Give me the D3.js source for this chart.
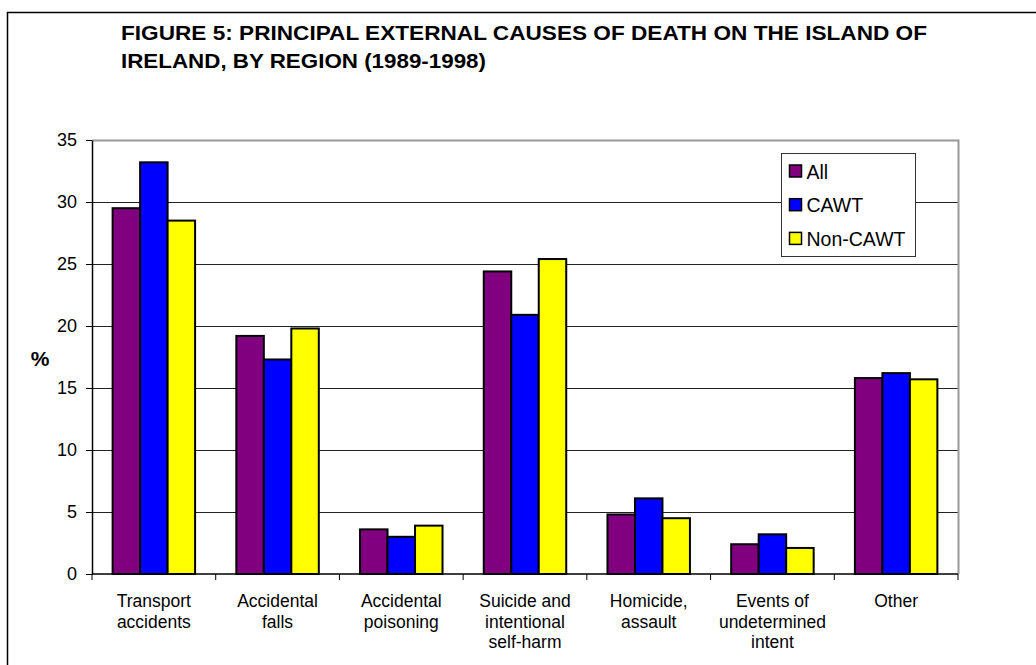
<!DOCTYPE html>
<html>
<head>
<meta charset="utf-8">
<title>Figure 5</title>
<script src="https://d3js.org/d3.v7.min.js"></script>
<style>
  body { margin: 0; background: #fff; }
  svg text { font-family: "Liberation Sans", Arial, sans-serif; fill: #000; }
</style>
</head>
<body>
<div class="chart"></div>
<script>
// data
var categories = [
  ["Transport", "accidents"],
  ["Accidental", "falls"],
  ["Accidental", "poisoning"],
  ["Suicide and", "intentional", "self-harm"],
  ["Homicide,", "assault"],
  ["Events of", "undetermined", "intent"],
  ["Other"]
];
var seriesNames = ["All", "CAWT", "Non-CAWT"];
var allValues = [29.5, 19.2, 3.6, 24.4, 4.8, 2.4, 15.8];
var cawtValues = [33.2, 17.3, 3.0, 20.9, 6.1, 3.2, 16.2];
var nonCawtValues = [28.5, 19.8, 3.9, 25.4, 4.5, 2.1, 15.7];
var yTicks = [0, 5, 10, 15, 20, 25, 30, 35];
var titleLines = ["FIGURE 5: PRINCIPAL EXTERNAL CAUSES OF DEATH ON THE ISLAND OF",
                  "IRELAND, BY REGION (1989-1998)"];
var colors = ["#800080", "#0000ff", "#ffff00"];

var width = 1036, height = 665;
var margin = {left: 92, right: 78, top: 140, bottom: 91};

var svg = d3.select(".chart").append("svg")
    .attr("width", width)
    .attr("height", height);

// outer frame (runs off right and bottom)
svg.append("rect")
    .attr("x", 7.5).attr("y", 12.5)
    .attr("width", 1100).attr("height", 700)
    .attr("fill", "none").attr("stroke", "#000").attr("stroke-width", 1.5);

// title - the original face is a bit wider than Liberation, so stretch to the measured widths
var titleWidths = [806, 365];
svg.append("g").selectAll("text")
    .data(titleLines)
    .enter().append("text")
    .attr("x", 121)
    .attr("y", function(d, i) { return 40 + i * 28; })
    .attr("textLength", function(d, i) { return titleWidths[i]; })
    .attr("lengthAdjust", "spacingAndGlyphs")
    .style("font-weight", "bold")
    .style("font-size", "19.5px")
    .text(function(d) { return d; });

var idx = d3.range(categories.length);
var x0 = d3.scaleBand()
    .domain(idx)
    .range([margin.left, width - margin.right])
    .paddingInner(0).paddingOuter(0);

var x1 = d3.scaleBand()
    .domain(seriesNames)
    .range([0, x0.bandwidth()])
    .paddingInner(0).paddingOuter(0.75);

var y = d3.scaleLinear()
    .domain([0, 35])
    .range([height - margin.bottom, margin.top]);

var x0L = margin.left, x0R = width - margin.right;

// gridlines
svg.append("g").selectAll("line")
    .data(yTicks.filter(function(d) { return d > 0 && d < 35; }))
    .enter().append("line")
    .attr("x1", x0L).attr("x2", x0R)
    .attr("y1", function(d) { return Math.round(y(d)) + 0.5; })
    .attr("y2", function(d) { return Math.round(y(d)) + 0.5; })
    .attr("stroke", "#222").attr("stroke-width", 1);

// plot area border top / right (gray)
svg.append("path")
    .attr("d", "M" + x0L + "," + (y(35) + 0.5) + "H" + (x0R + 0.5) + "V" + y(0))
    .attr("fill", "none").attr("stroke", "#999").attr("stroke-width", 2);

// bars
var seriesData = [allValues, cawtValues, nonCawtValues];
var groups = svg.append("g").selectAll("g")
    .data(idx)
    .enter().append("g")
    .attr("transform", function(i) { return "translate(" + x0(i) + ",0)"; });

groups.selectAll("rect")
    .data(function(i) {
        return seriesNames.map(function(s, k) { return {name: s, k: k, value: seriesData[k][i]}; });
    })
    .enter().append("rect")
    .attr("x", function(d) { return x1(d.name); })
    .attr("width", x1.bandwidth())
    .attr("y", function(d) { return y(d.value); })
    .attr("height", function(d) { return y(0) - y(d.value); })
    .attr("fill", function(d) { return colors[d.k]; })
    .attr("stroke", "#000").attr("stroke-width", 2);

// y axis
var yAxis = svg.append("g")
    .attr("transform", "translate(" + x0L + ",0)")
    .call(d3.axisLeft(y).tickValues(yTicks).tickSize(6).tickPadding(9).tickSizeOuter(0));
yAxis.select(".domain").attr("stroke", "#000").attr("stroke-width", 1.5);
yAxis.selectAll(".tick line").attr("stroke", "#000");
yAxis.selectAll(".tick text")
    .style("font-size", "18px")
    .style("font-family", "Liberation Sans, Arial, sans-serif");

// x axis line and ticks at category boundaries
svg.append("line")
    .attr("x1", x0L).attr("x2", x0R)
    .attr("y1", y(0)).attr("y2", y(0))
    .attr("stroke", "#000").attr("stroke-width", 1.5);

var bounds = idx.map(function(i) { return x0(i); }).concat([x0R]);
svg.append("g").selectAll("line")
    .data(bounds)
    .enter().append("line")
    .attr("x1", function(d) { return d; }).attr("x2", function(d) { return d; })
    .attr("y1", y(0)).attr("y2", y(0) + 6)
    .attr("stroke", "#000").attr("stroke-width", 1);

// category labels
var labels = svg.append("g").selectAll("text")
    .data(idx)
    .enter().append("text")
    .attr("x", function(i) { return x0(i) + x0.bandwidth() / 2; })
    .attr("y", 607)
    .attr("text-anchor", "middle")
    .style("font-size", "17.5px");
labels.each(function(i) {
    var t = d3.select(this);
    categories[i].forEach(function(line, j) {
        t.append("tspan")
            .attr("x", x0(i) + x0.bandwidth() / 2)
            .attr("dy", j === 0 ? 0 : 20.7)
            .text(line);
    });
});

// y axis title
svg.append("text")
    .attr("x", 40).attr("y", 366)
    .attr("text-anchor", "middle")
    .style("font-weight", "bold")
    .style("font-size", "21px")
    .text("%");

// legend
var legend = svg.append("g").attr("transform", "translate(781.5,153.5)");
legend.append("rect")
    .attr("width", 134).attr("height", 103)
    .attr("fill", "#fff").attr("stroke", "#333").attr("stroke-width", 1);
var items = legend.selectAll("g.item")
    .data(seriesNames)
    .enter().append("g")
    .attr("class", "item")
    .attr("transform", function(d, k) { return "translate(8," + (18 + k * 33.7) + ")"; });
items.append("rect")
    .attr("x", 0).attr("y", -6.5)
    .attr("width", 12).attr("height", 12)
    .attr("fill", function(d, k) { return colors[k]; })
    .attr("stroke", "#000").attr("stroke-width", 1.5);
items.append("text")
    .attr("x", 17).attr("y", 7)
    .style("font-size", "19.5px")
    .text(function(d) { return d; });
</script>
</body>
</html>
